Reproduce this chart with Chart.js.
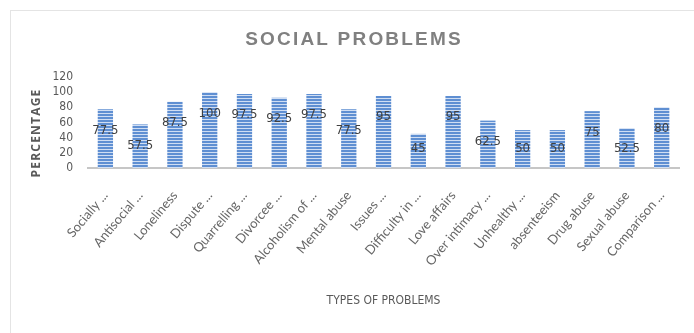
<!DOCTYPE html>
<html>
<head>
<meta charset="utf-8">
<script src="https://cdn.jsdelivr.net/npm/chart.js@4"></script>
<style>
  html, body { margin: 0; padding: 0; background: #fff; }
  #wrap { width: 694px; height: 333px; }
</style>
</head>
<body>
<div id="wrap"><canvas id="socialChart"></canvas></div>
<script>
// data
var problems = [
  "Socially ...", "Antisocial ...", "Loneliness", "Dispute ...", "Quarrelling ...",
  "Divorcee ...", "Alcoholism of ...", "Mental abuse", "Issues ...", "Difficulty in ...",
  "Love affairs", "Over intimacy ...", "Unhealthy ...", "absenteeism", "Drug abuse",
  "Sexual abuse", "Comparison ..."
];
var percentages = [77.5, 57.5, 87.5, 100, 97.5, 92.5, 97.5, 77.5, 95, 45, 95, 62.5, 50, 50, 75, 52.5, 80];
var yTicks = [0, 20, 40, 60, 80, 100, 120];

var narrow = "'DejaVu Sans Condensed', 'Liberation Sans', sans-serif";

/**
 * striped fill of the bars
 */
function stripes() {
  var c = document.createElement("canvas");
  c.width = 4;
  c.height = 3;
  var g = c.getContext("2d");
  g.fillStyle = "#5f8fd2";
  g.fillRect(0, 0, 4, 2);
  g.fillStyle = "#d0def3";
  g.fillRect(0, 2, 4, 1);
  return g.createPattern(c, "repeat");
}

// frame, chart title and the spaced y title
var frame = {
  id: "frame",
  beforeDraw: function (chart) {
    var ctx = chart.ctx;
    ctx.save();
    ctx.strokeStyle = "#e4e4e4";
    ctx.lineWidth = 1;
    ctx.strokeRect(10.5, 10.5, 720, 360);
    ctx.font = "bold 19px 'Liberation Sans'";
    ctx.fillStyle = "#808080";
    ctx.letterSpacing = "2.2px";
    ctx.textAlign = "center";
    ctx.textBaseline = "middle";
    ctx.fillText("SOCIAL PROBLEMS", 354, 40);

    ctx.font = "bold 12px 'Open Sans'";
    ctx.fillStyle = "#595959";
    ctx.letterSpacing = "1.2px";
    ctx.translate(37, 133);
    ctx.rotate(-Math.PI / 2);
    ctx.fillText("PERCENTAGE", 0, 0);
    ctx.restore();
  },
};

// value labels inside the bars
var barLabels = {
  id: "barLabels",
  afterDatasetsDraw: function (chart) {
    var ctx = chart.ctx;
    var meta = chart.getDatasetMeta(0);
    ctx.save();
    ctx.font = "13px " + narrow;
    ctx.fillStyle = "#404040";
    ctx.textAlign = "center";
    ctx.textBaseline = "middle";
    meta.data.forEach(function (bar, i) {
      var y = Math.min(bar.y + 21, bar.base - 19);
      ctx.fillText(String(percentages[i]), bar.x, y);
    });
    ctx.restore();
  },
};

document.addEventListener("DOMContentLoaded", function () {
  var ctx = document.getElementById("socialChart").getContext("2d");

  new Chart(ctx, {
    type: "bar",
    data: {
      labels: problems,
      datasets: [
        {
          label: "Percentage",
          data: percentages,
          backgroundColor: stripes(),
          borderWidth: 0,
          barPercentage: 0.55,
          categoryPercentage: 0.8,
        },
      ],
    },
    options: {
      responsive: true,
      maintainAspectRatio: false,
      animation: false,
      layout: {
        padding: { top: 77, left: 20, right: 12, bottom: 0 },
      },
      scales: {
        x: {
          grid: { display: false, drawTicks: false },
          border: { display: true, color: "#c6c6c6", width: 2 },
          ticks: {
            autoSkip: false,
            minRotation: 50,
            maxRotation: 50,
            padding: 20,
            color: "#666666",
            font: { family: "Lato", size: 13 },
          },
          title: {
            display: true,
            text: "TYPES OF PROBLEMS",
            color: "#595959",
            font: { family: narrow, size: 12 },
            padding: { top: 0, bottom: 25 },
          },
          afterFit: function (scale) {
            scale.height = 165;
          },
        },
        y: {
          min: 0,
          max: 120,
          afterBuildTicks: function (scale) {
            scale.ticks = yTicks.map(function (v) {
              return { value: v };
            });
          },
          grid: { display: false, drawTicks: false },
          border: { display: false },
          ticks: {
            autoSkip: false,
            padding: 15,
            color: "#595959",
            font: { family: narrow, size: 12 },
          },
          afterFit: function (scale) {
            scale.width = 68;
          },
        },
      },
      plugins: {
        legend: { display: false },
        tooltip: { enabled: false },
      },
    },
    plugins: [frame, barLabels],
  });
});
</script>
</body>
</html>
